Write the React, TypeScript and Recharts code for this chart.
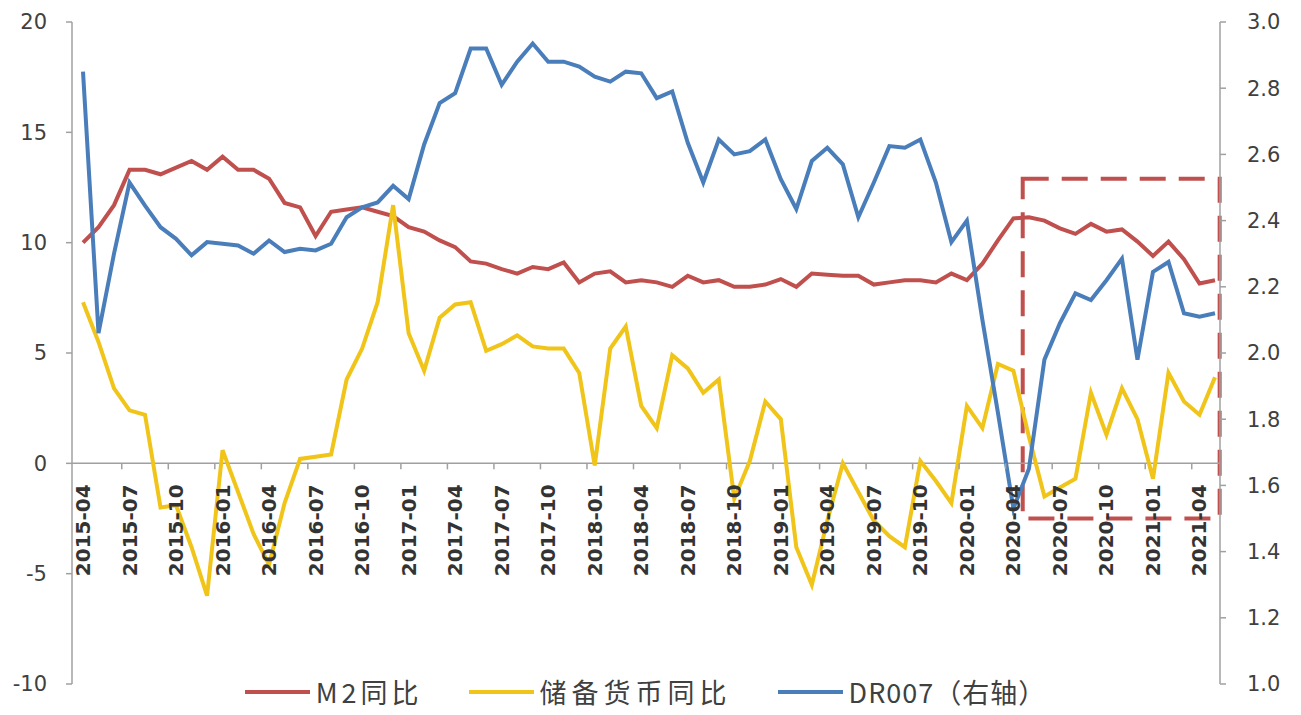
import { LineChart, Line, XAxis, YAxis, ReferenceLine, ReferenceArea, Legend } from 'recharts'

const months = [
  '2015-04', '2015-05', '2015-06', '2015-07', '2015-08', '2015-09', '2015-10', '2015-11', '2015-12',
  '2016-01', '2016-02', '2016-03', '2016-04', '2016-05', '2016-06', '2016-07', '2016-08', '2016-09', '2016-10', '2016-11', '2016-12',
  '2017-01', '2017-02', '2017-03', '2017-04', '2017-05', '2017-06', '2017-07', '2017-08', '2017-09', '2017-10', '2017-11', '2017-12',
  '2018-01', '2018-02', '2018-03', '2018-04', '2018-05', '2018-06', '2018-07', '2018-08', '2018-09', '2018-10', '2018-11', '2018-12',
  '2019-01', '2019-02', '2019-03', '2019-04', '2019-05', '2019-06', '2019-07', '2019-08', '2019-09', '2019-10', '2019-11', '2019-12',
  '2020-01', '2020-02', '2020-03', '2020-04', '2020-05', '2020-06', '2020-07', '2020-08', '2020-09', '2020-10', '2020-11', '2020-12',
  '2021-01', '2021-02', '2021-03', '2021-04', '2021-05',
]

// M2同比 (%)
const m2Yoy = [
  10.0, 10.7, 11.7, 13.3, 13.3, 13.1, 13.4, 13.7, 13.3, 13.9,
  13.3, 13.3, 12.9, 11.8, 11.6, 10.3, 11.4, 11.5, 11.6, 11.4,
  11.2, 10.7, 10.5, 10.1, 9.8, 9.15, 9.05, 8.8, 8.6, 8.9,
  8.8, 9.1, 8.2, 8.6, 8.7, 8.2, 8.3, 8.2, 8.0, 8.5,
  8.2, 8.3, 8.0, 8.0, 8.1, 8.35, 8.0, 8.6, 8.55, 8.5,
  8.5, 8.1, 8.2, 8.3, 8.3, 8.2, 8.6, 8.3, 9.05, 10.1,
  11.1, 11.15, 11.0, 10.65, 10.4, 10.85, 10.5, 10.6, 10.05, 9.4,
  10.05, 9.25, 8.15, 8.3,
]

// 储备货币同比 (%)
const baseMoneyYoy = [
  7.3, 5.5, 3.4, 2.4, 2.2, -2.0, -1.9, -3.8, -6.0, 0.6,
  -1.3, -3.2, -4.6, -1.8, 0.2, 0.3, 0.4, 3.8, 5.2, 7.3,
  11.7, 5.9, 4.2, 6.6, 7.2, 7.3, 5.1, 5.4, 5.8, 5.3,
  5.2, 5.2, 4.1, -0.1, 5.2, 6.2, 2.6, 1.6, 4.9, 4.3,
  3.2, 3.8, -1.6, 0.1, 2.8, 2.0, -3.8, -5.5, -2.6, 0.0,
  -1.3, -2.6, -3.3, -3.8, 0.1, -0.8, -1.8, 2.6, 1.6, 4.5,
  4.2, 1.2, -1.5, -1.1, -0.7, 3.2, 1.3, 3.4, 2.0, -0.7,
  4.1, 2.8, 2.2, 3.9,
]

// DR007 (右轴, %)
const dr007 = [
  2.85, 2.06, 2.3, 2.515, 2.445, 2.38, 2.345, 2.295, 2.335, 2.33,
  2.325, 2.3, 2.34, 2.305, 2.315, 2.31, 2.33, 2.41, 2.44, 2.455,
  2.505, 2.465, 2.63, 2.755, 2.785, 2.92, 2.92, 2.81, 2.88, 2.935,
  2.88, 2.88, 2.865, 2.835, 2.82, 2.85, 2.845, 2.77, 2.79, 2.635,
  2.515, 2.645, 2.6, 2.61, 2.645, 2.525, 2.435, 2.58, 2.62, 2.57,
  2.41, 2.515, 2.625, 2.62, 2.645, 2.515, 2.335, 2.4, 2.1, 1.82,
  1.53, 1.65, 1.98, 2.09, 2.18, 2.16, 2.22, 2.285, 1.98, 2.245,
  2.275, 2.12, 2.11, 2.12,
]

const leftTicks = [-10, -5, 0, 5, 10, 15, 20]
const rightTicks = [1.0, 1.2, 1.4, 1.6, 1.8, 2.0, 2.2, 2.4, 2.6, 2.8, 3.0]
const seriesNames = ['M2同比', '储备货币同比', 'DR007（右轴）']

// highlighted window (dashed box), in month index / left-axis units
const boxX = [60.6, 73.3]
const boxY = [-2.5, 12.9]

const RED = '#c0504d'
const YELLOW = '#f0c419'
const BLUE = '#4a7ebb'
const AXIS = '#a0a0a0'
const TEXT = '#404040'

const W = 1301
const H = 715
const TOP = 22
const PLOT_H = 662
const ZERO_Y = TOP + PLOT_H * (20 / 30)
const HALF_STEP = 7.75

const data = months.map((m, i) => ({
  idx: i,
  month: m,
  m2: m2Yoy[i],
  base: baseMoneyYoy[i],
  dr: dr007[i],
}))

const xTicks = months.map((_, i) => i).filter((i) => i % 3 === 0)

// month labels hang below the zero line, like an Excel axis crossing at 0
const MonthTick = (props: any) => {
  const { x, payload } = props
  const label = months[payload.value]
  const ty = ZERO_Y + 21
  return (
    <g>
      {payload.value > 0 && (
        <line x1={x - HALF_STEP} x2={x - HALF_STEP} y1={ZERO_Y} y2={ZERO_Y + 6} stroke={AXIS} strokeWidth={1.5} />
      )}
      <text
        x={x}
        y={ty}
        transform={`rotate(-90 ${x} ${ty})`}
        textAnchor="end"
        dominantBaseline="central"
        fontFamily="DejaVu Sans"
        fontWeight="bold"
        fontSize={20}
        fill="#333"
      >
        {label}
      </text>
    </g>
  )
}

const ChartLegend = () => {
  const colors = [RED, YELLOW, BLUE]
  const spacing = [4, 5, 1]
  return (
    <div style={{ display: 'flex', justifyContent: 'center', gap: 46, marginTop: -8, marginLeft: -10, height: 30 }}>
      {seriesNames.map((name, i) => (
        <div key={name} style={{ display: 'flex', alignItems: 'center', gap: 6 }}>
          <span style={{ width: 65, height: 4, background: colors[i], display: 'inline-block' }} />
          <span
            style={{
              fontFamily: '"Noto Sans CJK SC", sans-serif',
              fontSize: 27,
              color: TEXT,
              letterSpacing: spacing[i],
              lineHeight: '30px',
            }}
          >
            {name}
          </span>
        </div>
      ))}
    </div>
  )
}

export default function App() {
  return (
    <div style={{ position: 'absolute', left: 0, top: 0, width: W, height: H, background: '#fff' }}>
      <LineChart width={W} height={H} data={data} margin={{ top: TOP, right: 0, bottom: 0, left: 0 }}>
        <XAxis
          dataKey="idx"
          type="number"
          domain={[0, months.length - 1]}
          ticks={xTicks}
          padding={{ left: 11, right: 5 }}
          height={1}
          axisLine={false}
          tickLine={false}
          tick={MonthTick}
          interval={0}
        />
        <YAxis
          yAxisId="left"
          domain={[-10, 20]}
          ticks={leftTicks}
          width={72}
          stroke={AXIS}
          strokeWidth={1.5}
          tickSize={6}
          tickMargin={19}
          tick={{ fill: TEXT, fontSize: 21, fontFamily: 'DejaVu Sans' }}
          allowDataOverflow
        />
        <YAxis
          yAxisId="right"
          orientation="right"
          domain={[1, 3]}
          ticks={rightTicks}
          width={81}
          stroke={AXIS}
          strokeWidth={1.5}
          tickSize={6}
          tickMargin={21}
          tickFormatter={(v: number) => v.toFixed(1)}
          tick={{ fill: TEXT, fontSize: 21, fontFamily: 'DejaVu Sans', textAnchor: 'start' }}
          allowDataOverflow
        />
        <ReferenceLine yAxisId="left" y={0} stroke={AXIS} strokeWidth={1.5} />
        <Line
          yAxisId="left"
          dataKey="m2"
          name={seriesNames[0]}
          stroke={RED}
          strokeWidth={4}
          dot={false}
          isAnimationActive={false}
        />
        <Line
          yAxisId="left"
          dataKey="base"
          name={seriesNames[1]}
          stroke={YELLOW}
          strokeWidth={4}
          dot={false}
          isAnimationActive={false}
        />
        <Line
          yAxisId="right"
          dataKey="dr"
          name={seriesNames[2]}
          stroke={BLUE}
          strokeWidth={4}
          dot={false}
          isAnimationActive={false}
        />
        <ReferenceArea
          yAxisId="left"
          x1={boxX[0]}
          x2={boxX[1]}
          y1={boxY[0]}
          y2={boxY[1]}
          fill="none"
          fillOpacity={0}
          stroke={RED}
          strokeWidth={4}
          strokeDasharray="26 13"
          ifOverflow="visible"
        />
        <Legend verticalAlign="bottom" height={30} content={<ChartLegend />} />
      </LineChart>
    </div>
  )
}
